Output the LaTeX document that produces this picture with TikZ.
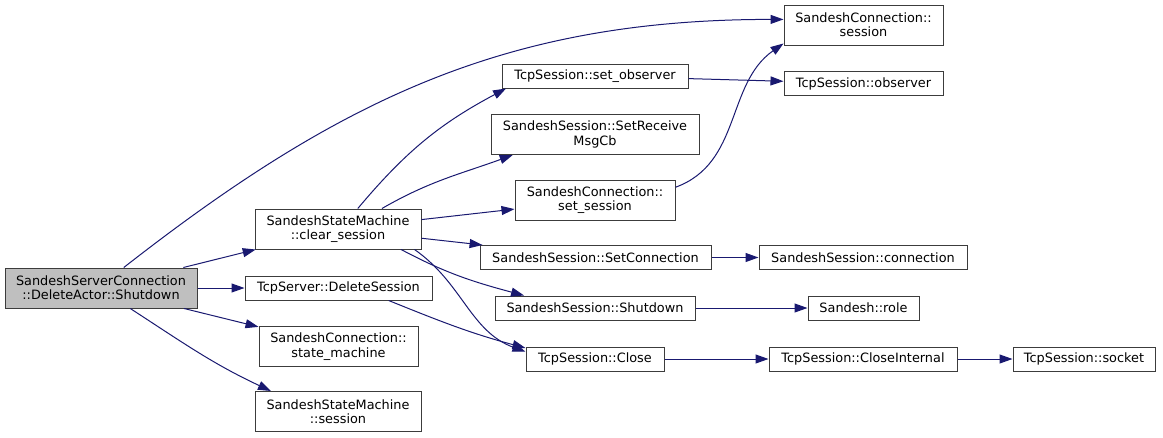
\documentclass[tikz,border=0pt]{standalone}
\usepackage{fontspec}
\setmainfont{DejaVu Sans}
\usepackage{tikz}
\usetikzlibrary{arrows.meta}
\definecolor{cEdge}{RGB}{25,25,112}
\definecolor{cBorder}{RGB}{60,60,60}
\definecolor{cRoot}{RGB}{191,191,191}

\begin{document}
\begin{tikzpicture}[x=1pt, y=1pt,
  fn/.style={draw=cBorder, line width=1pt, fill=white, align=center, inner sep=0pt,
    font=\fontsize{12.85pt}{14.3pt}\selectfont},
  one/.style={fn, minimum height=24pt},
  two/.style={fn, minimum height=40pt},
  call/.style={draw=cEdge, line width=1pt, -{Triangle[length=13pt,width=9pt]}}]
  \useasboundingbox (0,0) rectangle (1163,-437);
  % root
  \node[two, fill=cRoot, minimum width=192pt] (root) at (101,-288) {SandeshServerConnection\\::DeleteActor::Shutdown};
  % first level
  \node[two, minimum width=166pt] (clearsess) at (338,-229) {SandeshStateMachine\\::clear\_session};
  \node[one, minimum width=187pt] (delsess) at (338.5,-288) {TcpServer::DeleteSession};
  \node[two, minimum width=159pt] (statemach) at (338.5,-346.5) {SandeshConnection::\\state\_machine};
  \node[two, minimum width=166pt] (smsess) at (338,-411.5) {SandeshStateMachine\\::session};
  % second level
  \node[one, minimum width=186pt] (setobs) at (595,-76) {TcpSession::set\_observer};
  \node[two, minimum width=208pt] (setrecv) at (595,-134.5) {SandeshSession::SetReceive\\MsgCb};
  \node[two, minimum width=160pt] (setsess) at (595,-200) {SandeshConnection::\\set\_session};
  \node[one, minimum width=231pt] (setconn) at (595.5,-257.5) {SandeshSession::SetConnection};
  \node[one, minimum width=200pt] (ssshut) at (595,-308) {SandeshSession::Shutdown};
  \node[one, minimum width=138pt] (tcpclose) at (595,-359) {TcpSession::Close};
  % third level
  \node[two, minimum width=159pt] (scsess) at (863.5,-25) {SandeshConnection::\\session};
  \node[one, minimum width=159pt] (observer) at (863.5,-83.5) {TcpSession::observer};
  \node[one, minimum width=208pt] (conn) at (863,-257.5) {SandeshSession::connection};
  \node[one, minimum width=111pt] (role) at (863.5,-308) {Sandesh::role};
  \node[one, minimum width=188pt] (closeint) at (863,-359) {TcpSession::CloseInternal};
  \node[one, minimum width=142pt] (socket) at (1084,-359) {TcpSession::socket};
  % straight calls
  \foreach \a/\b in {root/clearsess, root/delsess, root/statemach, clearsess/setsess,
    clearsess/setconn, setobs/observer, setconn/conn, ssshut/role,
    tcpclose/closeint, closeint/socket} {
    \draw[call] (\a) -- (\b);
  }
  % curved calls
  \draw[call] (root.42) to[out=38,in=180] (scsess.176);
  \draw[call] (root.-35) to[out=-33,in=155] (smsess.163);
  \draw[call] (clearsess.46) to[out=50,in=208] (setobs.188);
  \draw[call] (clearsess.25) to[out=30,in=200] (setrecv.194);
  \draw[call] (clearsess.-18) to[out=-28,in=165] (ssshut.170);
  \draw[call] (clearsess.-15) to[out=-35,in=160] (tcpclose.174);
  \draw[call] (delsess.-14) to[out=-22,in=165] (tcpclose.171);
  \draw[call] (setsess.9) to[out=20,in=215] (scsess.193);
\end{tikzpicture}
\end{document}
